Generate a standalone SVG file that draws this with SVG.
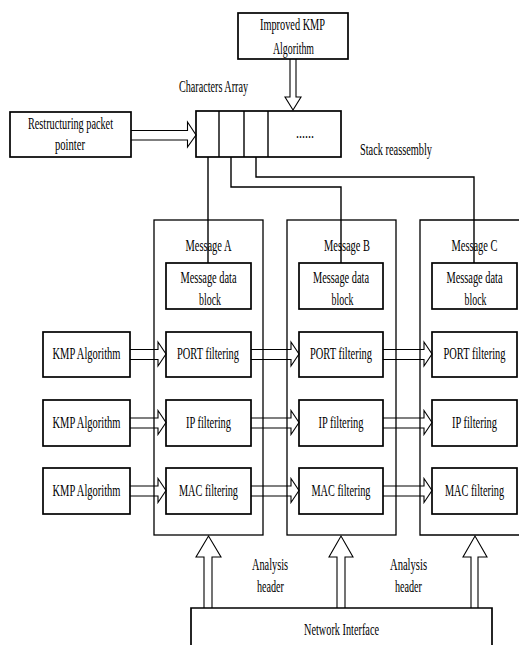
<svg xmlns="http://www.w3.org/2000/svg" width="519" height="645" viewBox="0 0 519 645">
<style>
.box{fill:none;stroke:#000;stroke-width:1.7}
.cont{fill:none;stroke:#000;stroke-width:1.3}
.ln{fill:none;stroke:#000;stroke-width:1.4}
.arr{fill:none;stroke:#000;stroke-width:1.1}
text{font-family:"Liberation Serif","Times New Roman",serif;font-size:16px;fill:#000;text-anchor:middle}
</style>
<rect width="519" height="645" fill="#fff"/>
<g id="containers">
<rect id="msgA" class="cont" x="154" y="220" width="109" height="315"/>
<rect id="msgB" class="cont" x="287" y="220" width="109" height="315"/>
<path id="msgC" class="cont" d="M519,220 H420 V535 H519"/>
<text x="208.5" y="251" textLength="46" lengthAdjust="spacingAndGlyphs">Message A</text>
<text x="347" y="251" textLength="46" lengthAdjust="spacingAndGlyphs">Message B</text>
<text transform="translate(474.5 0) scale(0.65 1)" x="0" y="251" textLength="70.8" lengthAdjust="spacingAndGlyphs">Message C</text>
</g>
<g id="improved-kmp">
<rect class="box" x="238" y="13" width="110" height="46"/>
<text x="292.5" y="30" textLength="65" lengthAdjust="spacingAndGlyphs">Improved KMP</text>
<text x="293.5" y="54" textLength="41" lengthAdjust="spacingAndGlyphs">Algorithm</text>
</g>
<g id="char-array">
<rect class="box" x="196" y="111" width="145" height="46"/>
<line class="ln" x1="219" y1="111" x2="219" y2="157"/>
<line class="ln" x1="244" y1="111" x2="244" y2="157"/>
<line class="ln" x1="268" y1="111" x2="268" y2="157"/>
<text x="305" y="138" textLength="18" lengthAdjust="spacingAndGlyphs">......</text>
<text x="213.5" y="92" textLength="69" lengthAdjust="spacingAndGlyphs">Characters Array</text>
</g>
<g id="restructuring">
<rect class="box" x="10" y="112" width="121" height="45"/>
<text x="70.5" y="129" textLength="85" lengthAdjust="spacingAndGlyphs">Restructuring packet</text>
<text x="70" y="150" textLength="30" lengthAdjust="spacingAndGlyphs">pointer</text>
</g>
<text id="stack-label" x="396" y="155" textLength="72" lengthAdjust="spacingAndGlyphs">Stack reassembly</text>
<g id="dataA"><rect class="box" x="166" y="263" width="85" height="46"/>
<text x="208.5" y="283" textLength="56" lengthAdjust="spacingAndGlyphs">Message data</text>
<text x="210" y="305" textLength="22" lengthAdjust="spacingAndGlyphs">block</text></g>
<g id="dataB"><rect class="box" x="299" y="263" width="84" height="46"/>
<text x="341" y="283" textLength="56" lengthAdjust="spacingAndGlyphs">Message data</text>
<text x="342.5" y="305" textLength="22" lengthAdjust="spacingAndGlyphs">block</text></g>
<g id="dataC"><rect class="box" x="432" y="263" width="85" height="46"/>
<text transform="translate(474.5 0) scale(0.65 1)" x="0" y="283" textLength="86.2" lengthAdjust="spacingAndGlyphs">Message data</text>
<text transform="translate(475.5 0) scale(0.65 1)" x="0" y="305" textLength="33.8" lengthAdjust="spacingAndGlyphs">block</text></g>
<g id="kmp1"><rect class="box" x="43" y="332" width="87" height="45"/>
<text x="86.5" y="359" textLength="68" lengthAdjust="spacingAndGlyphs">KMP Algorithm</text></g>
<g id="kmp2"><rect class="box" x="43" y="400" width="87" height="46"/>
<text x="86.5" y="428" textLength="68" lengthAdjust="spacingAndGlyphs">KMP Algorithm</text></g>
<g id="kmp3"><rect class="box" x="43" y="468" width="87" height="46"/>
<text x="86.5" y="496" textLength="68" lengthAdjust="spacingAndGlyphs">KMP Algorithm</text></g>
<g id="portA"><rect class="box" x="166" y="332" width="85" height="45"/>
<text x="208" y="359" textLength="62" lengthAdjust="spacingAndGlyphs">PORT filtering</text></g>
<g id="portB"><rect class="box" x="299" y="332" width="84" height="45"/>
<text x="341" y="359" textLength="62" lengthAdjust="spacingAndGlyphs">PORT filtering</text></g>
<g id="portC"><rect class="box" x="432" y="332" width="85" height="45"/>
<text transform="translate(474.5 0) scale(0.65 1)" x="0" y="359" textLength="95.4" lengthAdjust="spacingAndGlyphs">PORT filtering</text></g>
<g id="ipA"><rect class="box" x="166" y="400" width="85" height="46"/>
<text x="208.5" y="428" textLength="45" lengthAdjust="spacingAndGlyphs">IP filtering</text></g>
<g id="ipB"><rect class="box" x="299" y="400" width="84" height="46"/>
<text x="341" y="428" textLength="45" lengthAdjust="spacingAndGlyphs">IP filtering</text></g>
<g id="ipC"><rect class="box" x="432" y="400" width="85" height="46"/>
<text transform="translate(474.5 0) scale(0.65 1)" x="0" y="428" textLength="69.2" lengthAdjust="spacingAndGlyphs">IP filtering</text></g>
<g id="macA"><rect class="box" x="166" y="468" width="85" height="46"/>
<text x="208.5" y="496" textLength="59" lengthAdjust="spacingAndGlyphs">MAC filtering</text></g>
<g id="macB"><rect class="box" x="299" y="468" width="84" height="46"/>
<text x="341" y="496" textLength="59" lengthAdjust="spacingAndGlyphs">MAC filtering</text></g>
<g id="macC"><rect class="box" x="432" y="468" width="85" height="46"/>
<text transform="translate(474.5 0) scale(0.65 1)" x="0" y="496" textLength="90.8" lengthAdjust="spacingAndGlyphs">MAC filtering</text></g>
<g id="network"><path class="box" d="M191,645 V608 H492 V645"/>
<text x="341.5" y="635" textLength="75" lengthAdjust="spacingAndGlyphs">Network Interface</text></g>
<g id="labels">
<text x="270" y="570" textLength="36" lengthAdjust="spacingAndGlyphs">Analysis</text>
<text x="270.5" y="592" textLength="27" lengthAdjust="spacingAndGlyphs">header</text>
<text x="408.5" y="570" textLength="37" lengthAdjust="spacingAndGlyphs">Analysis</text>
<text x="408.5" y="592" textLength="27" lengthAdjust="spacingAndGlyphs">header</text>
</g>
<g id="connectors">
<polyline class="ln" points="208,157 208,263"/>
<polyline class="ln" points="231,157 231,187 341,187 341,263"/>
<polyline class="ln" points="256,157 256,177 474,177 474,263"/>
<path class="arr" d="M290,59 V97 H285 L293,110 L301,97 H296 V59"/>
<path class="arr" d="M131,130.5 H187.5 V122 L196,135 L187.5,147 V140 H131"/>
<path class="arr" d="M130,349.5 H158 V342 L166,354 L158,366 V359.5 H130"/>
<path class="arr" d="M251,349.5 H291 V342 L299,354 L291,366 V359.5 H251"/>
<path class="arr" d="M383,349.5 H424 V342 L432,354 L424,366 V359.5 H383"/>
<path class="arr" d="M130,418 H158 V410.5 L166,422.5 L158,434.5 V428 H130"/>
<path class="arr" d="M251,418 H291 V410.5 L299,422.5 L291,434.5 V428 H251"/>
<path class="arr" d="M383,418 H424 V410.5 L432,422.5 L424,434.5 V428 H383"/>
<path class="arr" d="M130,486 H158 V478.5 L166,490.5 L158,502.5 V496 H130"/>
<path class="arr" d="M251,486 H291 V478.5 L299,490.5 L291,502.5 V496 H251"/>
<path class="arr" d="M383,486 H424 V478.5 L432,490.5 L424,502.5 V496 H383"/>
<path class="arr" d="M204,608 V557 H196 L208.5,536 L221,557 H212 V608"/>
<path class="arr" d="M337,608 V557 H329 L341,536 L353,557 H345 V608"/>
<path class="arr" d="M471,608 V557 H463 L475,536 L487,557 H478 V608"/>
</g>
</svg>
